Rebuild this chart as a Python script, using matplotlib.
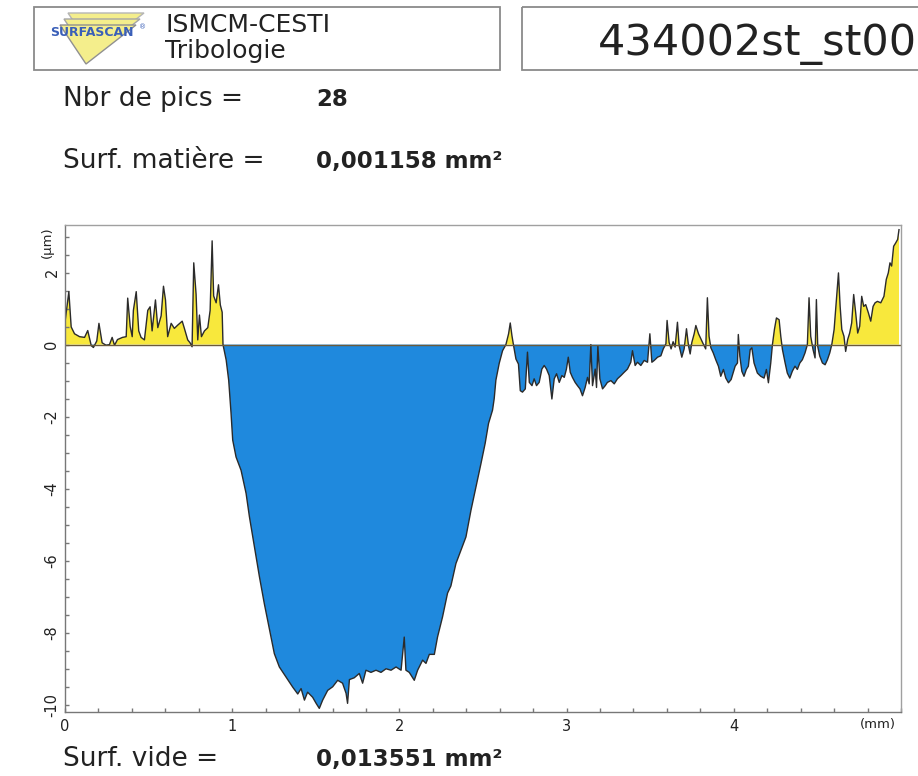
#!/usr/bin/env python
# encoding: utf-8

import matplotlib
matplotlib.use('Agg')
import matplotlib.pyplot as plt
from matplotlib.patches import Rectangle, Polygon
from matplotlib.ticker import MultipleLocator
import numpy as np

# profile: position (mm) / height (um)
x_mm = [0.0, 0.023, 0.037, 0.057, 0.087, 0.117, 0.136, 0.157, 0.170, 0.190,
        0.203, 0.222, 0.246, 0.266, 0.282, 0.296, 0.314, 0.344, 0.366, 0.375,
        0.390, 0.402, 0.409, 0.426, 0.441, 0.455, 0.475, 0.495, 0.509, 0.521,
        0.541, 0.555, 0.575, 0.589, 0.601, 0.614, 0.635, 0.654, 0.674, 0.701,
        0.714, 0.734, 0.748, 0.760, 0.770, 0.784, 0.794, 0.804, 0.816, 0.834,
        0.854, 0.868, 0.880, 0.889, 0.904, 0.918, 0.929, 0.940, 0.945,
        0.964, 0.979, 0.993, 1.003, 1.023, 1.053, 1.083, 1.103, 1.123, 1.143,
        1.163, 1.192, 1.212, 1.233, 1.252, 1.282, 1.322, 1.362, 1.392, 1.412,
        1.432, 1.451, 1.481, 1.502, 1.521, 1.541, 1.571, 1.601, 1.631, 1.660,
        1.681, 1.690, 1.701, 1.730, 1.760, 1.780, 1.800, 1.830, 1.860, 1.890,
        1.920, 1.950, 1.980, 2.010, 2.029, 2.039, 2.059, 2.089, 2.109, 2.139,
        2.159, 2.179, 2.209, 2.228, 2.258, 2.288, 2.308, 2.338, 2.368, 2.398,
        2.428, 2.458, 2.488, 2.513, 2.533, 2.557, 2.567, 2.577, 2.597, 2.617,
        2.637, 2.653, 2.663, 2.673, 2.683, 2.697, 2.712, 2.723, 2.736, 2.753,
        2.766, 2.777, 2.793, 2.806, 2.820, 2.836, 2.852, 2.866, 2.880, 2.896,
        2.912, 2.926, 2.940, 2.956, 2.972, 2.986, 2.999, 3.010, 3.022, 3.035,
        3.051, 3.065, 3.080, 3.095, 3.111, 3.125, 3.135, 3.145, 3.155, 3.171,
        3.179, 3.187, 3.199, 3.215, 3.231, 3.244, 3.265, 3.285, 3.304, 3.325,
        3.344, 3.364, 3.384, 3.394, 3.410, 3.424, 3.444, 3.464, 3.484, 3.498,
        3.510, 3.524, 3.544, 3.564, 3.578, 3.594, 3.601, 3.613, 3.625, 3.637,
        3.649, 3.663, 3.673, 3.689, 3.703, 3.717, 3.729, 3.739, 3.749, 3.763,
        3.773, 3.789, 3.803, 3.817, 3.832, 3.842, 3.852, 3.863, 3.877, 3.892,
        3.908, 3.922, 3.938, 3.952, 3.968, 3.984, 3.996, 4.008, 4.022, 4.027,
        4.036, 4.048, 4.061, 4.075, 4.087, 4.098, 4.108, 4.121, 4.141, 4.161,
        4.181, 4.195, 4.207, 4.221, 4.231, 4.243, 4.255, 4.271, 4.281, 4.291,
        4.307, 4.320, 4.335, 4.350, 4.366, 4.380, 4.395, 4.410, 4.426, 4.440,
        4.450, 4.460, 4.474, 4.486, 4.494, 4.502, 4.514, 4.530, 4.546, 4.560,
        4.574, 4.586, 4.600, 4.614, 4.626, 4.636, 4.646, 4.659, 4.669, 4.681,
        4.693, 4.705, 4.717, 4.729, 4.741, 4.753, 4.765, 4.777, 4.789, 4.805,
        4.819, 4.833, 4.845, 4.859, 4.879, 4.898, 4.912, 4.924, 4.934, 4.944,
        4.956, 4.968, 4.980, 4.988]
z_um = [0.62, 1.47, 0.49, 0.30, 0.22, 0.20, 0.39, -0.03, -0.08, 0.10,
        0.59, 0.05, -0.02, 0.0, 0.20, -0.02, 0.14, 0.20, 0.22, 1.29,
        0.50, 0.22, 0.95, 1.47, 0.38, 0.20, 0.13, 0.95, 1.05, 0.38,
        1.24, 0.47, 0.80, 1.62, 1.24, 0.22, 0.59, 0.45, 0.54, 0.65,
        0.45, 0.13, 0.05, -0.06, 2.27, 1.40, 0.13, 0.82, 0.22, 0.38,
        0.47, 0.95, 2.88, 1.35, 1.16, 1.66, 1.10, 0.90, 0.0,
        -0.43, -0.99, -1.90, -2.65, -3.12, -3.49, -4.13, -4.78, -5.34, -5.89,
        -6.45, -7.19, -7.65, -8.12, -8.58, -8.95, -9.23, -9.51, -9.70, -9.55,
        -9.87, -9.65, -9.79, -9.96, -10.10, -9.87, -9.60, -9.50, -9.32, -9.40,
        -9.68, -9.96, -9.30, -9.25, -9.13, -9.40, -9.04, -9.10, -9.04, -9.10,
        -9.00, -9.04, -8.95, -9.04, -8.12, -9.04, -9.10, -9.32, -9.04, -8.76,
        -8.85, -8.60, -8.60, -8.12, -7.56, -6.90, -6.70, -6.08, -5.71, -5.34,
        -4.60, -3.95, -3.30, -2.74, -2.19, -1.82, -1.50, -0.99, -0.52, -0.17,
        0.0, 0.30, 0.60, 0.25, -0.03, -0.40, -0.54, -1.28, -1.32, -1.23,
        -0.21, -1.05, -1.14, -0.95, -1.14, -1.05, -0.68, -0.58, -0.68, -0.86,
        -1.51, -0.95, -0.81, -1.05, -0.86, -0.91, -0.68, -0.35, -0.77, -0.91,
        -1.05, -1.14, -1.23, -1.42, -1.19, -0.91, -1.09, 0.0, -1.14, -0.68,
        -1.19, -0.03, -0.95, -1.23, -1.14, -1.05, -1.00, -1.09, -0.95, -0.86,
        -0.77, -0.68, -0.49, -0.17, -0.58, -0.49, -0.58, -0.44, -0.49, 0.30,
        -0.49, -0.44, -0.35, -0.31, -0.12, 0.02, 0.67, 0.06, -0.12, 0.08,
        -0.07, 0.62, -0.03, -0.35, -0.12, 0.44, -0.03, -0.26, 0.06, 0.30,
        0.53, 0.30, 0.16, 0.02, -0.12, 1.30, 0.23, -0.09, -0.23, -0.42,
        -0.60, -0.88, -0.69, -0.93, -1.06, -0.97, -0.79, -0.60, -0.51, 0.28,
        -0.32, -0.74, -0.88, -0.69, -0.60, -0.14, -0.09, -0.51, -0.79, -0.88,
        -0.93, -0.69, -1.06, -0.51, 0.0, 0.42, 0.74, 0.69, 0.23, -0.14,
        -0.51, -0.79, -0.93, -0.74, -0.60, -0.69, -0.51, -0.42, -0.23, 0.0,
        1.30, 0.23, -0.14, -0.37, 1.25, -0.05, -0.32, -0.51, -0.56, -0.42,
        -0.23, 0.0, 0.42, 1.25, 1.99, 1.06, 0.42, 0.23, -0.19, 0.14,
        0.32, 0.60, 1.39, 0.88, 0.32, 0.51, 1.34, 1.06, 1.11, 0.88,
        0.65, 1.06, 1.16, 1.20, 1.16, 1.34, 1.81, 1.99, 2.27, 2.18,
        2.73, 2.82, 2.92, 3.19]

x_ticks = [0, 1, 2, 3, 4]
y_ticks = [-10, -8, -6, -4, -2, 0, 2]

nbr_pics = '28'
surf_matiere = '0,001158 mm²'
surf_vide = '0,013551 mm²'
ref_name = '434002st_st00'

W, H = 918, 776


def fy(py):
    return 1 - py / H


if __name__ == '__main__':
    plt.rcParams['axes.unicode_minus'] = False
    fig = plt.figure(figsize=(W / 100, H / 100), dpi=100)
    fig.patch.set_facecolor('white')

    # overlay in pixel coords for the report header
    ov = fig.add_axes([0, 0, 1, 1])
    ov.set_xlim(0, W)
    ov.set_ylim(H, 0)
    ov.set_axis_off()
    ov.patch.set_alpha(0)

    ov.add_patch(Rectangle((34, 7), 466, 63, fill=False, ec='#8a8a8a', lw=1.3))
    ov.add_patch(Rectangle((522, 7), 420, 63, fill=False, ec='#8a8a8a', lw=1.3,
                           clip_on=False))

    # logo: stacked triangles
    for dx, dy, ec in [(8, -12, '#b5b5b5'), (4, -6, '#a5a5a5'), (0, 0, '#909090')]:
        ov.add_patch(Polygon([(60 + dx, 25 + dy), (136 + dx, 25 + dy), (86 + dx, 64 + dy)],
                             closed=True, fc='#f4ee8c', ec=ec, lw=1.0))
    ov.text(92, 33, 'SURFASCAN', color='#3a5fb8', fontsize=9, fontweight='bold',
            ha='center', va='center')
    ov.text(143, 27, '®', color='#3a5fb8', fontsize=5, ha='center', va='center')

    ov.text(165, 32, 'ISMCM-CESTI', fontsize=18, color='#222222', va='baseline')
    ov.text(165, 58, 'Tribologie', fontsize=18, color='#222222', va='baseline')
    ov.text(598, 55, ref_name, fontsize=31, color='#222222', va='baseline')

    ov.text(63, 106, 'Nbr de pics =', fontsize=19, color='#222222', va='baseline')
    ov.text(316, 106, nbr_pics, fontsize=16.5, fontweight='bold', color='#222222', va='baseline')
    ov.text(63, 168, 'Surf. matière =', fontsize=19, color='#222222', va='baseline')
    ov.text(316, 168, surf_matiere, fontsize=16.5, fontweight='bold', color='#222222', va='baseline')
    ov.text(63, 766, 'Surf. vide =', fontsize=19, color='#222222', va='baseline')
    ov.text(316, 766, surf_vide, fontsize=16.5, fontweight='bold', color='#222222', va='baseline')

    # profile axes
    ax = fig.add_axes([65 / W, fy(712), (901 - 65) / W, (712 - 225) / H])
    x = np.array(x_mm)
    z = np.array(z_um)
    ax.fill_between(x, z, 0, where=z >= 0, interpolate=True, color='#f8e83c', lw=0)
    ax.fill_between(x, z, 0, where=z <= 0, interpolate=True, color='#1f89dd', lw=0)
    ax.plot(x, z, '-', color='#2b2b2b', lw=1.0)
    ax.axhline(0, color='#6b5a3a', lw=1.0)

    ax.set_xlim(0, 5.0)
    ax.set_ylim(-10.2, 3.32)
    ax.set_xticks(x_ticks)
    ax.set_yticks(y_ticks)
    ax.xaxis.set_minor_locator(MultipleLocator(0.2))
    ax.yaxis.set_minor_locator(MultipleLocator(0.5))
    ax.tick_params(which='both', direction='in', length=3, color='#777777', width=1,
                   labelsize=10.5, labelcolor='#222222')
    ax.tick_params(axis='x', pad=5)
    ax.tick_params(axis='y', pad=4)
    for lab in ax.get_yticklabels():
        lab.set_rotation(90)
        lab.set_va('center')
    for s in ax.spines.values():
        s.set_color('#a0a0a0')
        s.set_linewidth(1.0)
    ax.spines['bottom'].set_color('#777777')
    ax.spines['left'].set_color('#777777')

    ax.text(-0.013, 0.965, '(µm)', transform=ax.transAxes, rotation=90,
            fontsize=9.5, ha='right', va='center', color='#222222')
    ax.text(0.972, -0.025, '(mm)', transform=ax.transAxes,
            fontsize=9.5, ha='center', va='center', color='#222222')

    fig.savefig('out.png', dpi=100, facecolor='white')
